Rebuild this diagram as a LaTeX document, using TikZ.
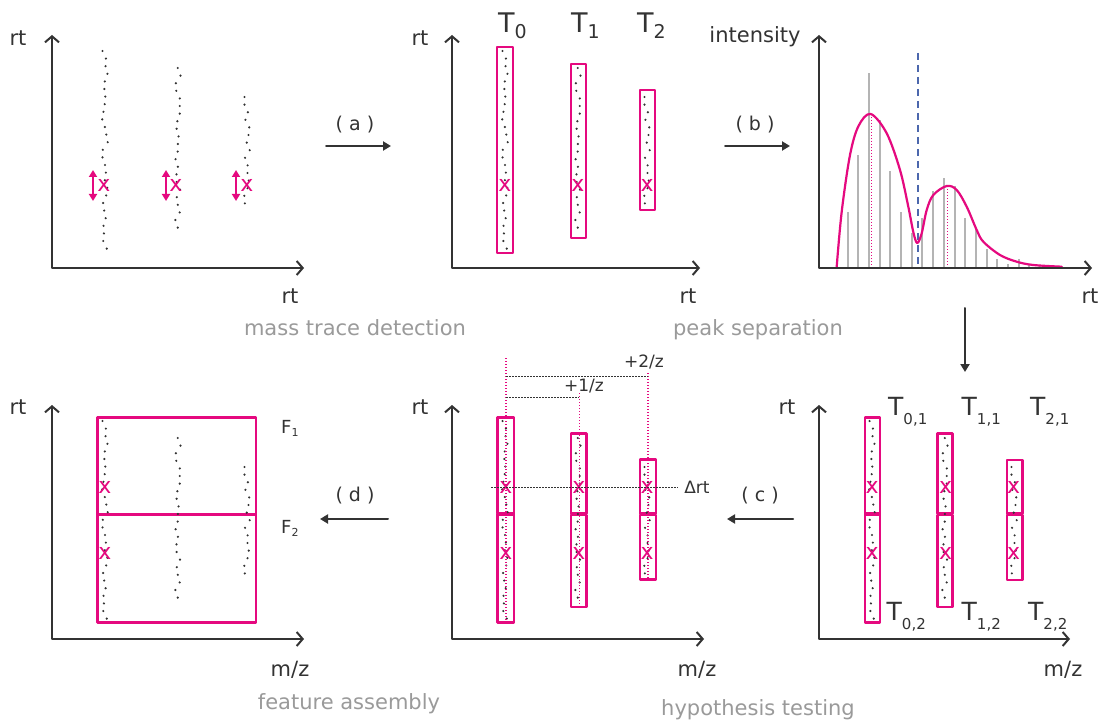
\documentclass[tikz,border=0pt]{standalone}
\usepackage{fontspec}
\setmainfont{DejaVu Sans}
\usetikzlibrary{arrows.meta}
\definecolor{ftInk}{HTML}{333333}
\definecolor{ftPink}{HTML}{E5097F}
\definecolor{ftGrey}{HTML}{9A9A9A}
\definecolor{ftBar}{HTML}{B4B4B4}
\definecolor{ftBlue}{HTML}{4C67AD}
\newcommand{\ftfont}[1]{\fontsize{#1}{#1}\selectfont}
% the three mass traces, same jitter in every panel
\newcommand{\ftraces}{%
  \pgfmathsetseed{4711}%
  \foreach \k in {0,...,26}{\fill[ftInk] ({105+2.8*rand},{51+7.6*\k}) circle (1.2);}%
  \foreach \k in {0,...,21}{\fill[ftInk] ({178+2.8*rand},{68+7.6*\k}) circle (1.2);}%
  \foreach \k in {0,...,14}{\fill[ftInk] ({247+2.8*rand},{97+7.6*\k}) circle (1.2);}}
\begin{document}
\begin{tikzpicture}[x=1pt,y=-1pt,line cap=round,line join=round]
\path[fill=white] (0,0) rectangle (1102,722);
\tikzset{axisline/.style={draw=ftInk,line width=2pt,{Straight Barb[length=6pt,width=14pt]}-{Straight Barb[length=6pt,width=14pt]}},flowarrow/.style={draw=ftInk,line width=2pt,-{Triangle[length=8pt,width=9pt]}},tracebox/.style={draw=ftPink,line width=2.3pt},pkarrow/.style={draw=ftPink,line width=2pt,{Triangle[length=7pt,width=8pt]}-{Triangle[length=7pt,width=8pt]}},pkmark/.style={text=ftPink,font=\ftfont{22},inner sep=0pt},pkdots/.style={draw=ftPink,line width=1.3pt,line cap=butt,dash pattern=on 1.3pt off 1.7pt},inkdots/.style={draw=ftInk,line width=0.9pt,line cap=butt,dash pattern=on 1.5pt off 1.5pt},axlabel/.style={text=ftInk,font=\ftfont{21},inner sep=0pt},steplabel/.style={text=ftInk,font=\ftfont{19},inner sep=0pt},stagecap/.style={text=ftGrey,font=\ftfont{21},inner sep=0pt},smalllabel/.style={text=ftInk,font=\ftfont{17},inner sep=0pt},tlabel/.style={text=ftInk,font=\ftfont{27},inner sep=0pt,anchor=base west}}
% mass trace detection
\begin{scope}
\draw[axisline] (52,35) -- (52,268) -- (304,268);
\node[axlabel] (rtA) at (18,38) {rt}; \node[axlabel] (rtAx) at (290,296) {rt};
\ftraces
\draw[pkarrow] (93,170) -- (93,201); \draw[pkarrow] (166,170) -- (166,201); \draw[pkarrow] (236,170) -- (236,201);
\node[pkmark] (xA0) at (104,185) {x}; \node[pkmark] (xA1) at (176,185) {x}; \node[pkmark] (xA2) at (247,185) {x};
\end{scope}
\node[stagecap] (capA) at (355,328) {mass trace detection};
% traces T0..T2
\begin{scope}[shift={(400,0)}]
\draw[axisline] (52,35) -- (52,268) -- (300,268);
\node[axlabel] (rtB) at (20,38) {rt}; \node[axlabel] (rtBx) at (288,296) {rt};
\draw[tracebox] (97,47) rectangle (113,253); \draw[tracebox] (171,64) rectangle (186,238); \draw[tracebox] (240,90) rectangle (255,210);
\ftraces
\node[pkmark] (xB0) at (105,185) {x}; \node[pkmark] (xB1) at (178,185) {x}; \node[pkmark] (xB2) at (247,185) {x};
\node[tlabel] (tB0) at (98,33) {T\raisebox{-6pt}{\ftfont{19}0}}; \node[tlabel] (tB1) at (171,33) {T\raisebox{-6pt}{\ftfont{19}1}}; \node[tlabel] (tB2) at (237,33) {T\raisebox{-6pt}{\ftfont{19}2}};
\end{scope}
% peak separation
\begin{scope}[shift={(767,0)}]
\foreach \h [count=\k from 0] in {211.7,155,73.3,120,170.7,211.7,233,218.3,191,177.7,185.7,217.7,229.3,248.7,258.7,264.3,259.3,265,266,266.7}
  \draw[ftBar,line width=2pt,line cap=butt] ({80.5+10.7*\k},268) -- ({80.5+10.7*\k},\h);
\draw[ftBlue,line width=1.8pt,line cap=butt,dash pattern=on 7pt off 5pt] (150.7,53) -- (150.7,268);
\draw[pkdots] (104.5,114) -- (104.5,268); \draw[pkdots] (180.5,186) -- (180.5,268);
\draw[ftPink,line width=2.2pt] plot[smooth,tension=0.55] coordinates {(69.7,266.7) (74.7,211.7) (83,155) (91.5,126) (103.7,114) (119.7,133.3) (133,170) (141.3,206.7) (146.5,233) (150.3,243) (154.7,233.3) (159.7,210) (166.3,195) (179.7,186) (189.7,190) (199.7,206.7) (209.7,230) (216.3,241.7) (233,255) (249.7,261.7) (266.3,265) (294.7,266.7)};
\draw[axisline] (52,35) -- (52,268) -- (325,268);
\node[axlabel] (intC) at (-12,37) {intensity}; \node[axlabel] (rtCx) at (323,296) {rt};
\end{scope}
\node[stagecap] (capC) at (758,330) {peak separation};
% hypothesis testing, split traces
\begin{scope}[shift={(767,370)}]
\draw[axisline] (52,35) -- (52,269) -- (303,269);
\node[axlabel] (rtD) at (20,37) {rt}; \node[axlabel] (mzD) at (296,300) {m/z};
\draw[tracebox] (98,47.5) rectangle (113,143.5); \draw[tracebox] (98,144.5) rectangle (113,252.5);
\draw[tracebox] (170.5,63.5) rectangle (185.5,143.5); \draw[tracebox] (170.5,145) rectangle (185.5,237);
\draw[tracebox] (240,90) rectangle (255.5,143.5); \draw[tracebox] (240,145) rectangle (255.5,210);
\ftraces
\node[pkmark] (xD0) at (105,117) {x}; \node[pkmark] (xD1) at (178.5,117) {x}; \node[pkmark] (xD2) at (246.5,117) {x};
\node[pkmark] (xD3) at (105,183) {x}; \node[pkmark] (xD4) at (178.5,183) {x}; \node[pkmark] (xD5) at (246.5,183) {x};
\tikzset{tlabel/.append style={font=\ftfont{25}}}
\node[tlabel] (tD01) at (121,45) {T\raisebox{-9pt}{\ftfont{15}0,1}}; \node[tlabel] (tD11) at (194.5,45) {T\raisebox{-9pt}{\ftfont{15}1,1}}; \node[tlabel] (tD21) at (263,45) {T\raisebox{-9pt}{\ftfont{15}2,1}};
\node[tlabel] (tD02) at (119.5,250) {T\raisebox{-9pt}{\ftfont{15}0,2}}; \node[tlabel] (tD12) at (194.5,250) {T\raisebox{-9pt}{\ftfont{15}1,2}}; \node[tlabel] (tD22) at (261,250) {T\raisebox{-9pt}{\ftfont{15}2,2}};
\end{scope}
\node[stagecap] (capD) at (758,710) {hypothesis testing};
% isotope hypotheses
\begin{scope}[shift={(400,370)}]
\draw[axisline] (52,35) -- (52,269) -- (304,269);
\node[axlabel] (rtE) at (20,37) {rt}; \node[axlabel] (mzE) at (297,300) {m/z};
\draw[tracebox] (97.5,47.5) rectangle (114,143.5); \draw[tracebox] (97.5,144.5) rectangle (114,252.5);
\draw[tracebox] (171,63.5) rectangle (186.5,143.5); \draw[tracebox] (171,145) rectangle (186.5,237);
\draw[tracebox] (240,89.5) rectangle (256,143.5); \draw[tracebox] (240,145) rectangle (256,209.5);
\ftraces
\coordinate (hE0) at (106,-12); \coordinate (hE1) at (179.3,23); \coordinate (hE2) at (248,3);
\draw[pkdots] (hE0) -- (106,252); \draw[pkdots] (hE1) -- (179.3,237); \draw[pkdots] (hE2) -- (248,210);
\draw[inkdots] (106,6) -- (hE2 |- 0,6); \draw[inkdots] (106,27.7) -- (hE1 |- 0,27.7);
\node[smalllabel] (twoZ) at (244,-8.5) {+2/z}; \node[smalllabel] (oneZ) at (184,16.5) {+1/z};
\node[pkmark] (xE0) at (106,117) {x}; \node[pkmark] (xE1) at (179,117) {x}; \node[pkmark] (xE2) at (247,117) {x};
\node[pkmark] (xE3) at (106,183) {x}; \node[pkmark] (xE4) at (179,183) {x}; \node[pkmark] (xE5) at (247,183) {x};
\node[smalllabel] (drt) at (297,117) {Δrt};
\draw[inkdots] (91,117) -- ([xshift=-7pt]drt.west);
\end{scope}
% feature assembly
\begin{scope}[shift={(0,370)}]
\draw[axisline] (52,35) -- (52,269) -- (304,269);
\node[axlabel] (rtF) at (18,37) {rt}; \node[axlabel] (mzF) at (290,300) {m/z};
\draw[tracebox] (97.5,47.5) rectangle (256,252.5); \draw[ftPink,line width=3.2pt,line cap=butt] (97.5,144.5) -- (256,144.5);
\ftraces
\node[pkmark] (xF0) at (105,117) {x}; \node[pkmark] (xF1) at (105,183) {x};
\node[text=ftInk,font=\ftfont{18},inner sep=0pt,anchor=base west] (fOne) at (281,63) {F\raisebox{-3pt}{\ftfont{11}1}};
\node[text=ftInk,font=\ftfont{18},inner sep=0pt,anchor=base west] (fTwo) at (281,163) {F\raisebox{-3pt}{\ftfont{11}2}};
\end{scope}
\node[stagecap] (capF) at (349,704) {feature assembly};
% processing steps
\coordinate (aL) at (326,146); \coordinate (aR) at (391,146); \draw[flowarrow] (aL) -- (aR); \node[steplabel] (stepA) at (355,125) {( a )};
\coordinate (bL) at (725,146); \coordinate (bR) at (790,146); \draw[flowarrow] (bL) -- (bR); \node[steplabel] (stepB) at (755,125) {( b )};
\coordinate (dT) at (965,308); \coordinate (dB) at (965,372); \draw[flowarrow] (dT) -- (dB);
\coordinate (cR) at (793,519); \coordinate (cL) at (727,519); \draw[flowarrow] (cR) -- (cL); \node[steplabel] (stepC) at (760,496) {( c )};
\coordinate (eR) at (388,519); \coordinate (eL) at (320,519); \draw[flowarrow] (eR) -- (eL); \node[steplabel] (stepD) at (355,496) {( d )};
\end{tikzpicture}
\end{document}
